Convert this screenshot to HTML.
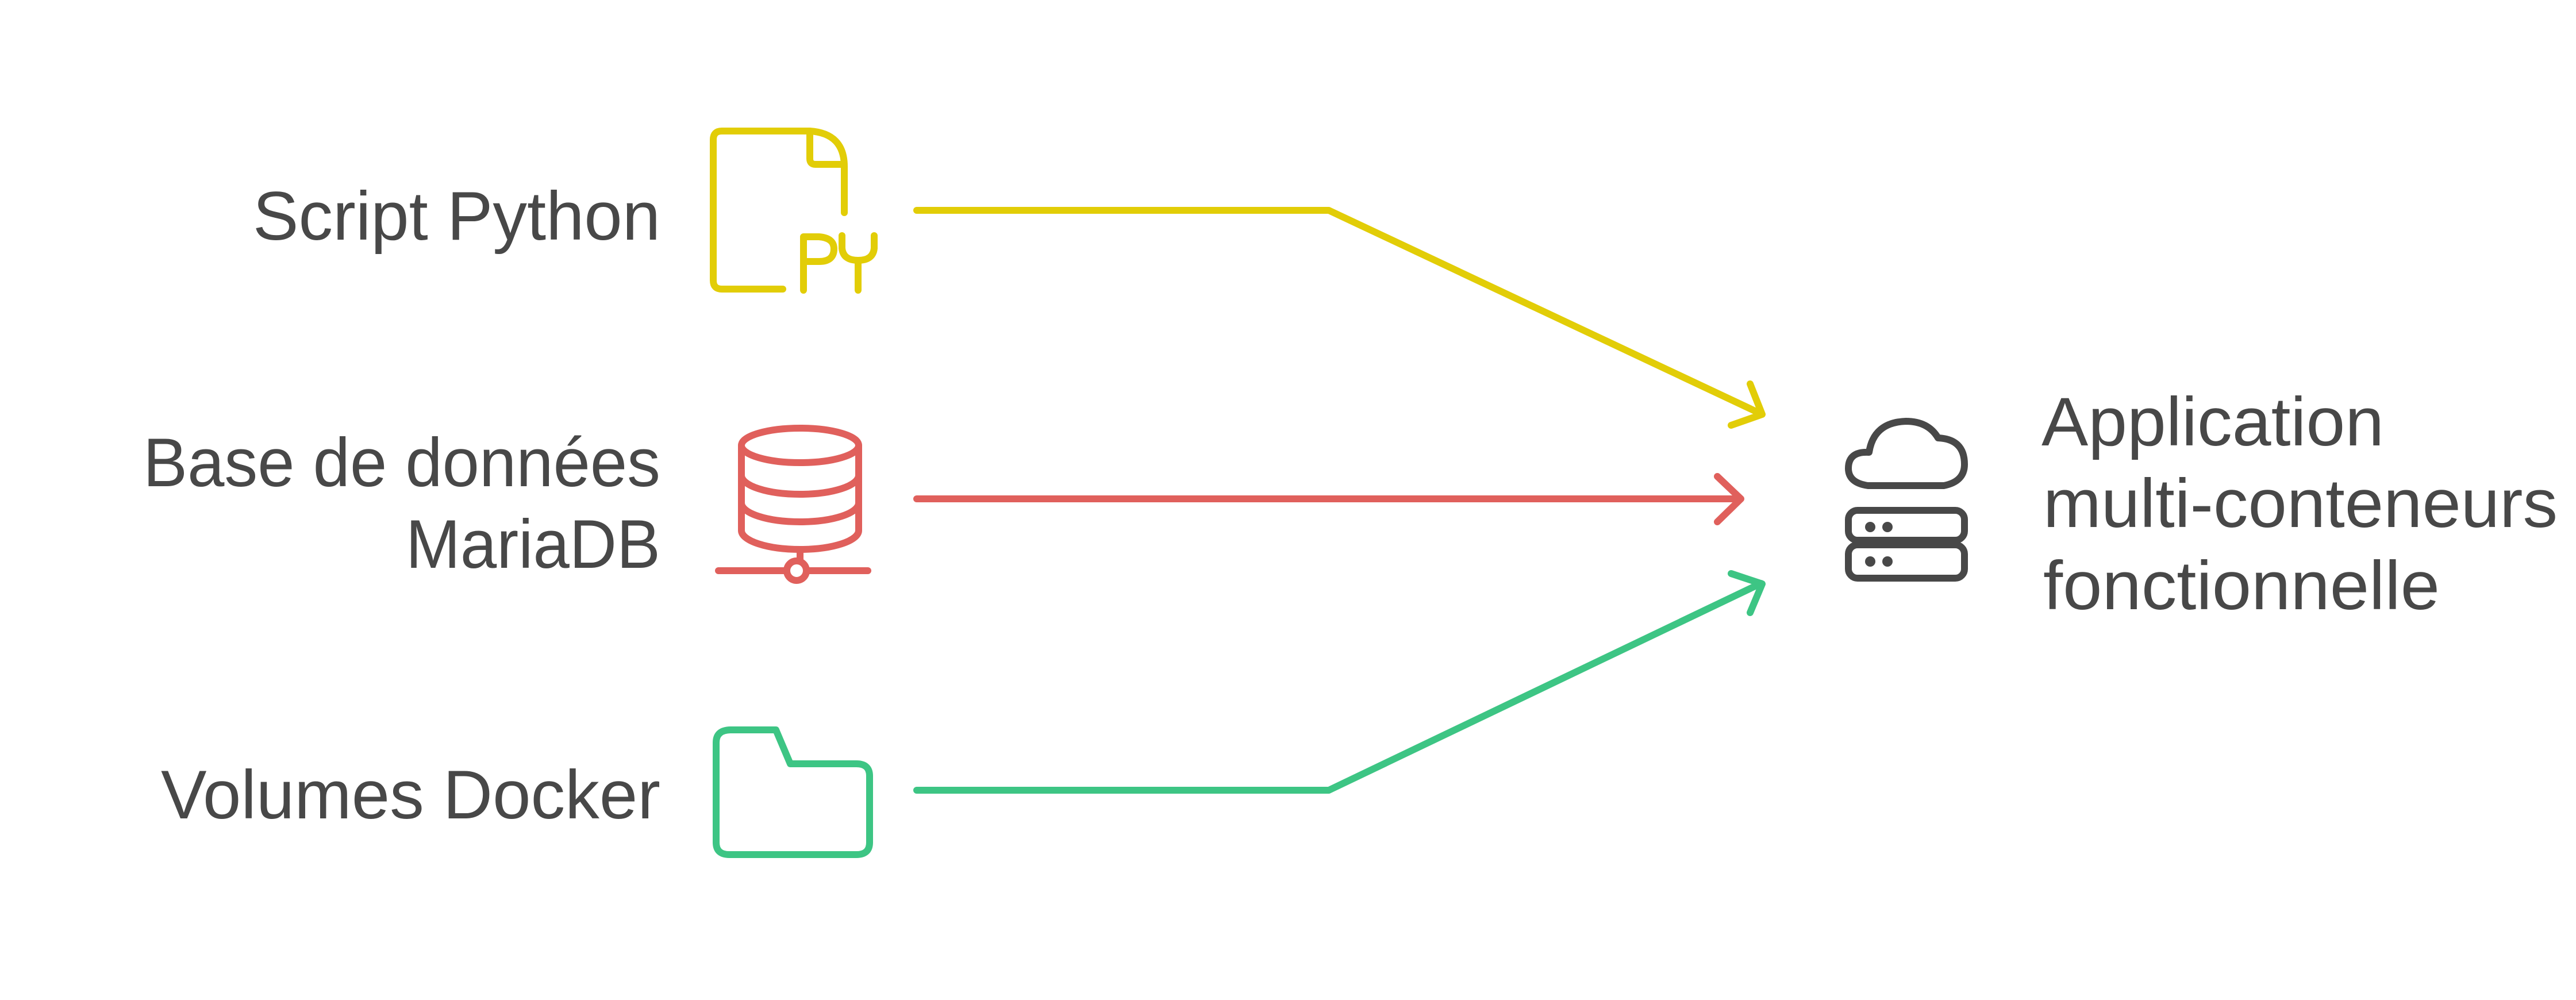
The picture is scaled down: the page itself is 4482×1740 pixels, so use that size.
<!DOCTYPE html>
<html><head><meta charset="utf-8"><style>
html,body{margin:0;padding:0;background:#fff;}
svg{display:block;}
text{font-family:"Liberation Sans",sans-serif;fill:#484848;font-size:120px;}
</style></head><body>
<svg width="4482" height="1740" viewBox="0 0 4482 1740" xmlns="http://www.w3.org/2000/svg">
<g fill="none" stroke-linecap="round" stroke-linejoin="round" stroke-width="12">
<!-- Python file icon -->
<g stroke="#E2CD07">
<path d="M1362 503 H1256 Q1241 503 1241 488 V243 Q1241 228 1256 228 H1409 Q1469 232 1469 290 V370"/>
<path d="M1409 228 V276 Q1409 286 1419 286 H1465"/>
<path d="M1398 505 V412 H1425 Q1451 414 1451 433 Q1451 455 1425 455 H1398"/>
<path d="M1465 410 V432 Q1467 453 1493 453 Q1519 453 1521 432 V410 M1493 453 V505"/>
</g>
<!-- DB icon -->
<g stroke="#E0605C">
<ellipse cx="1392" cy="775" rx="102" ry="30"/>
<path d="M1290 775 V923 A102 33 0 0 0 1494 923 V775"/>
<path d="M1290 827 A102 33 0 0 0 1494 827"/>
<path d="M1290 875 A102 33 0 0 0 1494 875"/>
<path d="M1392 956 V975"/>
<circle cx="1386" cy="993" r="17"/>
<path d="M1250 993 H1368 M1404 993 H1510"/>
</g>
<!-- Folder icon -->
<path stroke="#3DC584" d="M1246 1292 Q1246 1270 1272 1270 H1350 L1375 1329 H1490 Q1513 1329 1513 1350 V1466 Q1513 1487 1490 1487 H1269 Q1246 1487 1246 1466 Z"/>
<!-- Connectors -->
<path stroke="#E2CD07" d="M1595 366 H2312 L3064 720 M3045 668 L3066 721 L3012 740"/>
<path stroke="#E0605C" d="M1595 868 H3028 M2988 829 L3029 868 L2988 908"/>
<path stroke="#3DC584" d="M1595 1375 H2312 L3064 1015 M3012 998 L3066 1016 L3045 1066"/>
<!-- Cloud server icon -->
<g stroke="#484848">
<path d="M3250 845 Q3216 840 3216 815 Q3216 785 3252 787 Q3260 735 3316 733 Q3355 733 3372 762 Q3418 764 3418 808 Q3418 838 3382 845 Z"/>
<rect x="3216" y="888" width="202" height="52" rx="16"/>
<rect x="3216" y="948" width="202" height="58" rx="16"/>
</g>
</g>
<g fill="#484848">
<circle cx="3254" cy="917" r="9"/><circle cx="3284" cy="917" r="9"/>
<circle cx="3254" cy="977" r="9"/><circle cx="3284" cy="977" r="9"/>
</g>
<!-- Labels -->
<text x="1149" y="417" text-anchor="end" textLength="709" lengthAdjust="spacingAndGlyphs">Script Python</text>
<text x="1149" y="846" text-anchor="end" textLength="900" lengthAdjust="spacingAndGlyphs">Base de données</text>
<text x="1149" y="988" text-anchor="end" textLength="443" lengthAdjust="spacingAndGlyphs">MariaDB</text>
<text x="1149" y="1424" text-anchor="end" textLength="869" lengthAdjust="spacingAndGlyphs">Volumes Docker</text>
<text x="3552" y="775" textLength="596" lengthAdjust="spacingAndGlyphs">Application</text>
<text x="3555" y="917" textLength="895" lengthAdjust="spacingAndGlyphs">multi-conteneurs</text>
<text x="3555" y="1060" textLength="690" lengthAdjust="spacingAndGlyphs">fonctionnelle</text>
</svg>
</body></html>
